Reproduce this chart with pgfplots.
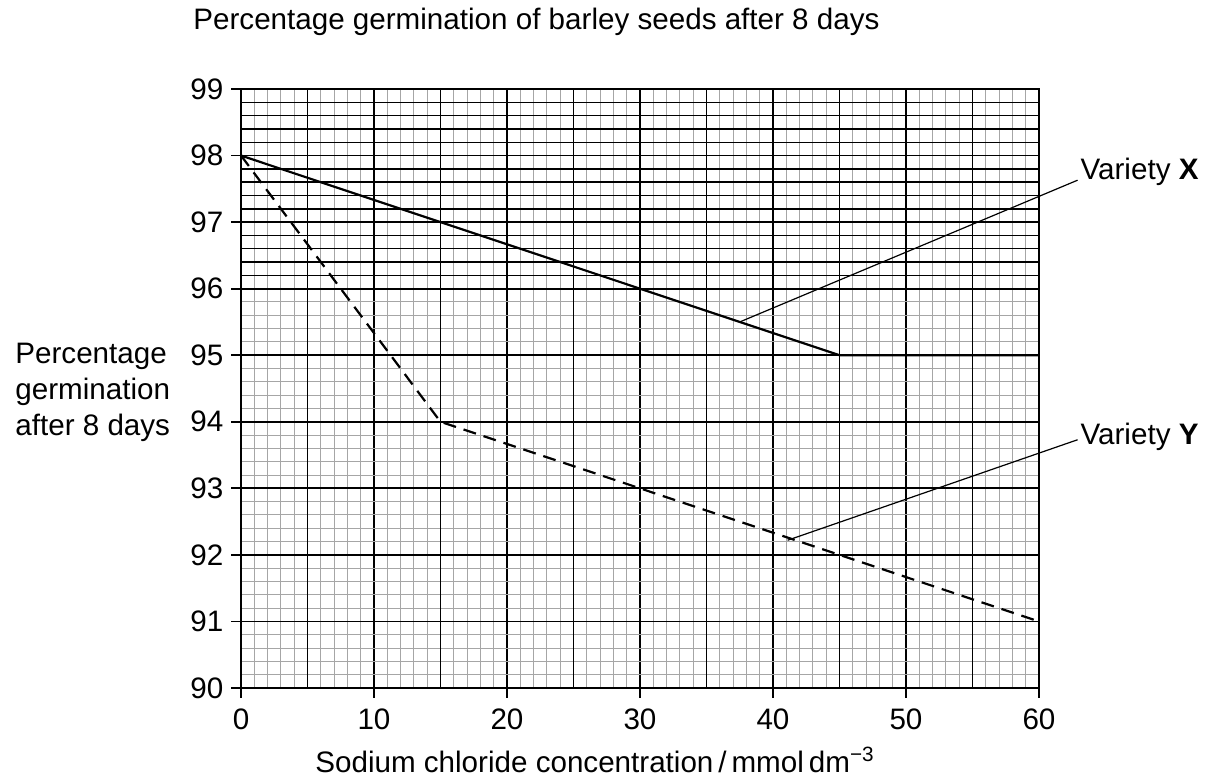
\documentclass[border=0pt]{standalone}
\usepackage{fontspec}
\setmainfont{Liberation Sans}
\usepackage{pgfplots}
\pgfplotsset{compat=1.18}
\begin{document}
\begin{tikzpicture}[font=\fontsize{14.8}{18}\selectfont]
\useasboundingbox (-120.5pt,-46.5pt) rectangle (487pt,344pt);
\begin{axis}[
  scale only axis, width=399pt, height=299.5pt,
  xmin=0, xmax=60, ymin=90, ymax=99,
  clip=false,
  axis line style={black, line width=0.9pt},
  tick pos=left, tick align=outside,
  major tick length=4.8pt, minor tick length=0pt,
  tick style={black, line width=0.9pt},
  xtick={0,10,...,60}, ytick={90,91,...,99},
  minor xtick={0,1,...,60}, minor ytick={90,90.2,...,99},
  grid=both,
  major grid style={black, line width=0.9pt},
  minor grid style={black!35, line width=0.5pt},
  extra x ticks={5,15,25,35,45,55}, extra x tick labels={},
  extra x tick style={grid=major, major tick length=0pt},
  extra y ticks={96.2,96.4,96.6,96.8,97.2,97.4,97.6,97.8,98.2,98.4,98.6,98.8}, extra y tick labels={},
  extra y tick style={grid=major, major tick length=0pt, major grid style={black, line width=0.75pt}},
  /pgf/number format/assume math mode=true,
  ticklabel style={font=\fontsize{14.8}{16}\selectfont},
  xticklabel style={yshift=-2pt},
  yticklabel style={xshift=-0.5pt},
]
\addplot[black, line width=1.1pt] coordinates {(0,98) (45,95) (60,95)};
\addplot[black, line width=1.1pt, dash pattern=on 6.5pt off 4pt] coordinates {(0,98) (15,94) (60,91)};
\addplot[black, line width=0.6pt] coordinates {(37.5,95.5) (62.9,97.63)};
\addplot[black, line width=0.6pt] coordinates {(41.1,92.22) (62.9,93.73)};
\node[anchor=west, inner sep=0pt] at (axis cs:63.1,97.75) {Variety \textbf{X}};
\node[anchor=west, inner sep=0pt] at (axis cs:63.1,93.78) {Variety \textbf{Y}};
\end{axis}
\node[anchor=west, inner sep=0pt] at (-24pt,333pt) {Percentage germination of barley seeds after 8 days};
\node[anchor=west, align=left, inner sep=0pt] at (-113pt,148pt) {Percentage\\germination\\after 8 days};
\node[inner sep=0pt] at (177pt,-36pt) {Sodium chloride concentration\,/\,mmol\,dm\textsuperscript{−3}};
\end{tikzpicture}
\end{document}
